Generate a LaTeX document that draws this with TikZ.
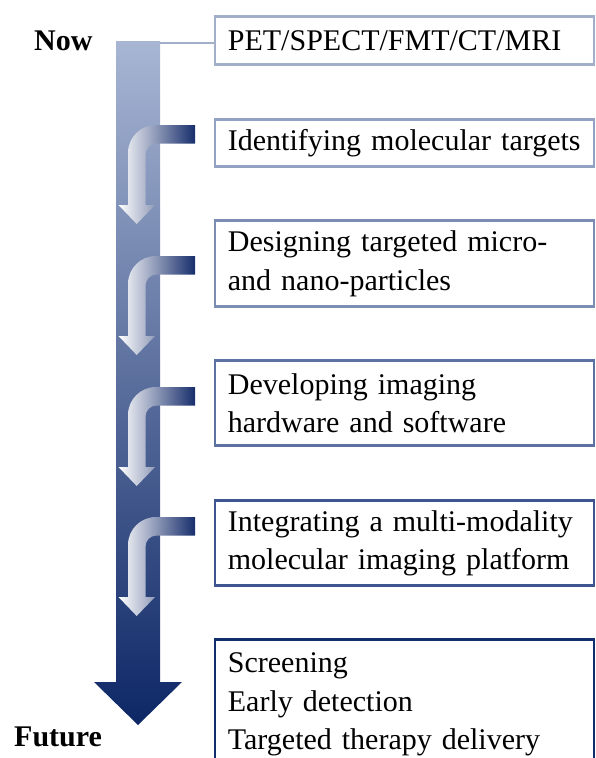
\documentclass[tikz,border=0pt]{standalone}
\usepackage{fontspec}
\setmainfont{Liberation Serif}
\usepackage{tikz}
\usetikzlibrary{calc}

\definecolor{shafttop}{HTML}{A8B6D4}
\definecolor{shaftbot}{HTML}{0D2766}
\definecolor{bendnavy}{HTML}{172E6C}
\definecolor{bendmid}{HTML}{B3BCD1}
\definecolor{edgea}{HTML}{A2AFCB}
\definecolor{edgeb}{HTML}{93A2C3}
\definecolor{edgec}{HTML}{7C8DB4}
\definecolor{edged}{HTML}{5D72A3}
\definecolor{edgee}{HTML}{3E558F}
\definecolor{edgef}{HTML}{122E6D}

\tikzset{
  stage/.style={draw,line width=2.8pt,anchor=north west,minimum width=379pt,
    text width=353pt,align=left,inner xsep=12pt,
    font=\fontsize{30}{38.5}\selectfont},
  tag/.style={anchor=base west,inner sep=0pt,font=\fontsize{30}{34}\selectfont\bfseries},
  bendshade/.style={left color=white,middle color=bendmid,right color=bendnavy}
}

\begin{document}
\begin{tikzpicture}[x=1pt,y=-1pt]
  \useasboundingbox (0,0) rectangle (595,758);
  \clip (0,0) rectangle (595,758);

  % time axis
  \shade[top color=shafttop,bottom color=shaftbot]
    (116,41) -- (160,41) -- (160,682) -- (182,682) -- (138,725)
    -- (94,682) -- (116,682) -- cycle;
  \coordinate (shafttop) at (160,43);

  % small bent arrows along the axis
  \foreach \t in {125,256,387,517}{
    \shade[bendshade]
      (195,\t) -- (156,\t) .. controls (140.5,\t) and (128,\t+12.5) .. (128,\t+28)
      -- (128,\t+80) -- (118.5,\t+80) -- (136.7,\t+99) -- (155,\t+80) -- (145.5,\t+80)
      -- (145.5,\t+29.5) .. controls (145.5,\t+23.4) and (150.4,\t+18.5) .. (156.5,\t+18.5)
      -- (195,\t+18.5) -- cycle;
  }

  \def\boxl{213.5}
  \node[stage,draw=edgea,minimum height=48pt] (pet) at (\boxl,15.4) {PET/SPECT/FMT/CT/MRI};
  \node[stage,draw=edgeb,minimum height=47pt] (targets) at (\boxl,118.1) {Identifying molecular targets};
  \node[stage,draw=edgec,minimum height=86pt] (particles) at (\boxl,219.4) {Designing targeted micro-\\and nano-particles};
  \node[stage,draw=edged,minimum height=85pt] (hardware) at (\boxl,359.4) {Developing imaging\\hardware and software};
  \node[stage,draw=edgee,minimum height=85pt] (platform) at (\boxl,499.4) {Integrating a multi-modality\\molecular imaging platform};
  \node[stage,draw=edgef,minimum height=130pt] (uses) at (\boxl,638.1) {Screening\\Early detection\\Targeted therapy delivery};

  \draw[edgea,line width=2.5pt] (shafttop) -- (shafttop -| pet.west);

  \node[tag] (now) at (34,50) {Now};
  \node[tag] (future) at (14,746) {Future};
\end{tikzpicture}
\end{document}
